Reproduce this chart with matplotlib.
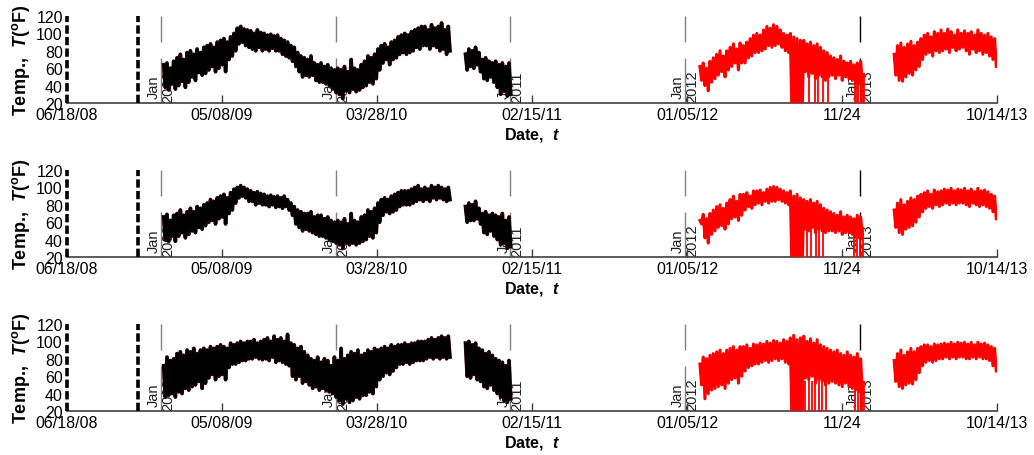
import matplotlib
matplotlib.use("Agg")
from matplotlib import pyplot as plt
import numpy as np
import pandas as pd

plt.rcParams['font.family'] = ['Liberation Sans', 'DejaVu Sans']
plt.rcParams['mathtext.fontset'] = 'custom'
plt.rcParams['mathtext.rm'] = 'Liberation Sans:bold'
plt.rcParams['mathtext.it'] = 'Liberation Sans:italic:bold'
plt.rcParams['mathtext.bf'] = 'Liberation Sans:bold'

# ===================== 数据 (weekly upper / lower swing, degF) =====================
b1_start = "2009-01-06"   # black, first run
b2_start = "2010-09-29"   # black, second run
r1_start = "2012-02-01"   # red, first run
r2_start = "2013-03-13"   # red, second run

# --- top panel ---
top_b1_hi = [64, 66, 60, 68, 72, 76, 70, 78, 80, 76, 82, 78, 84, 86, 88, 84, 90, 92, 94, 90, 96,
             100, 106, 108, 105, 104, 103, 100, 104, 101, 100, 98, 99, 97, 98, 94, 92, 90, 86,
             84, 78, 74, 72, 70, 74, 66, 64, 66, 62, 64, 60, 58, 60, 58, 62, 56, 70, 60, 58, 64,
             68, 74, 72, 76, 82, 86, 88, 84, 90, 92, 96, 98, 100, 98, 102, 104, 106, 108,
             108, 104, 110, 106, 108, 112, 104, 108]
top_b1_lo = [38, 35, 42, 36, 40, 45, 38, 44, 50, 46, 55, 52, 54, 58, 62, 56, 60, 64, 56, 70, 74,
             80, 88, 90, 86, 84, 82, 80, 84, 80, 82, 80, 83, 80, 80, 76, 74, 72, 68,
             62, 56, 50, 52, 50, 52, 46, 44, 44, 42, 40, 36, 32, 30, 25, 34, 32, 36, 33, 35, 38,
             40, 44, 42, 48, 58, 66, 70, 64, 70, 72, 76, 78, 76, 78, 80, 84, 82, 86,
             86, 82, 86, 84, 80, 82, 76, 80]
top_b2_hi = [76, 82, 80, 84, 78, 70, 72, 68, 66, 68, 64, 66, 62, 66]
top_b2_lo = [58, 62, 60, 64, 56, 48, 46, 50, 44, 38, 30, 34, 28, 30]
top_r1_hi = [62, 66, 60, 68, 72, 76, 80, 74, 80, 84, 88, 82, 89, 86, 90, 94, 98,
             100, 98, 104, 108, 106, 110, 108, 104, 100, 98, 100, 96, 94, 92,
             92, 88, 90, 86, 88, 84, 80, 78, 74, 72, 70, 74, 68, 66, 68, 64, 66, 68]
top_r1_lo = [46, 40, 34, 44, 48, 52, 56, 50, 58, 62, 66, 58, 66, 66, 72, 74, 78,
             78, 80, 82, 86, 84, 86, 88, 84, 80, 78, 0, 0, 0, 0,
             56, 50, 54, 48, 52, 50, 46, 50, 52, 48, 52, 46, 50, 48, 46, 44, 42, 44]
top_r2_hi = [76, 86, 89, 84, 88, 91, 86, 90, 94, 98, 100, 96, 102, 100, 104, 100, 105, 102, 98, 104,
             100, 103, 100, 102, 98, 104, 100, 98, 100, 96, 94]
top_r2_lo = [52, 46, 45, 50, 54, 52, 58, 62, 70, 76, 78, 74, 80, 78, 80, 82, 78, 84, 80, 82,
             84, 80, 76, 82, 78, 80, 76, 78, 74, 70, 62]
top_drops = ["2012-09-17", "2012-09-28", "2012-10-04", "2012-10-15", "2012-10-26",
             "2012-12-21", "2012-12-25", "2012-12-28", "2013-01-03", "2013-01-06", "2013-01-08"]

# --- middle panel ---
mid_b1_hi = [66, 69, 62, 68, 70, 74, 68, 72, 76, 72, 78, 76, 80, 82, 86, 84, 88, 90, 92, 88, 94,
             98, 100, 102, 100, 98, 96, 94, 95, 93, 92, 90, 91, 89, 90, 88, 90, 86, 82,
             78, 74, 72, 70, 70, 72, 66, 68, 68, 64, 66, 62, 60, 62, 60, 64, 58, 70, 62, 60, 66,
             68, 74, 72, 76, 82, 86, 88, 86, 90, 92, 94, 96, 96, 96, 98, 100, 102, 98,
             100, 98, 102, 100, 102, 100, 98, 100]
mid_b1_lo = [40, 38, 44, 38, 44, 48, 42, 46, 50, 48, 54, 52, 56, 60, 62, 58, 64, 66, 58, 70, 74,
             82, 88, 90, 88, 84, 84, 80, 82, 80, 80, 78, 80, 77, 78, 76, 78, 74, 68,
             58, 54, 50, 52, 50, 48, 46, 44, 44, 42, 40, 38, 36, 34, 30, 36, 34, 36, 34, 36, 38,
             40, 44, 42, 48, 60, 68, 72, 70, 72, 74, 78, 80, 80, 80, 82, 84, 86, 84,
             86, 84, 88, 86, 88, 86, 84, 86]
mid_b2_hi = [78, 82, 80, 84, 76, 70, 72, 68, 70, 68, 66, 70, 62, 66]
mid_b2_lo = [60, 62, 62, 64, 58, 48, 46, 50, 44, 40, 34, 36, 30, 32]
mid_r1_hi = [62, 69, 64, 70, 74, 78, 80, 76, 82, 86, 90, 84, 92, 92, 94, 90, 96,
             96, 97, 94, 98, 100, 101, 100, 98, 96, 94, 96, 90, 92, 88,
             86, 84, 86, 82, 84, 80, 76, 74, 72, 70, 68, 72, 66, 68, 66, 64, 68, 66]
mid_r1_lo = [58, 42, 36, 46, 50, 54, 56, 52, 58, 64, 66, 62, 68, 74, 78, 76, 80,
             82, 80, 84, 82, 84, 84, 86, 84, 82, 80, 0, 0, 0, 0,
             52, 50, 54, 48, 52, 50, 48, 50, 50, 48, 50, 46, 48, 48, 46, 44, 42, 44]
mid_r2_hi = [74, 82, 86, 80, 84, 88, 86, 90, 92, 94, 96, 92, 97, 95, 96, 98, 97, 99, 96, 98,
             97, 99, 96, 98, 95, 99, 96, 97, 95, 92, 90]
mid_r2_lo = [54, 48, 46, 52, 54, 56, 60, 66, 72, 76, 78, 76, 80, 78, 80, 82, 80, 82, 80, 82,
             82, 80, 78, 82, 80, 78, 80, 78, 76, 72, 64]
mid_drops = ["2012-09-11", "2012-09-21", "2012-09-30", "2012-10-07", "2012-10-15",
             "2012-12-20", "2012-12-26", "2013-01-01", "2013-01-06"]

# --- bottom panel ---
bot_b1_hi = [72, 82, 78, 80, 86, 88, 84, 90, 88, 92, 86, 90, 92, 90, 94, 92, 94, 96, 94, 92, 98,
             96, 98, 100, 98, 100, 100, 102, 98, 100, 102, 104, 100, 106, 102, 104, 100, 108, 98,
             96, 92, 94, 88, 84, 80, 78, 82, 76, 80, 78, 72, 82, 78, 92, 80, 84, 88, 86, 90, 84,
             86, 90, 88, 92, 90, 92, 94, 92, 96, 94, 96, 96, 98, 96, 98, 98, 100, 100,
             100, 102, 104, 102, 104, 106, 104, 106]
bot_b1_lo = [36, 38, 40, 36, 42, 40, 46, 44, 48, 50, 54, 46, 52, 58, 62, 56, 60, 62, 56, 70, 74,
             74, 76, 78, 78, 80, 80, 82, 80, 79, 80, 78, 82, 76, 78, 76, 74, 72, 60,
             56, 60, 52, 54, 50, 46, 48, 44, 46, 44, 42, 40, 36, 32, 28, 34, 30, 32, 36, 34, 38,
             38, 42, 40, 48, 56, 60, 64, 62, 66, 70, 74, 74, 76, 74, 76, 78, 78, 78,
             80, 82, 80, 82, 80, 82, 80, 82]
bot_b2_hi = [98, 100, 96, 98, 92, 90, 86, 88, 84, 80, 78, 76, 72, 78]
bot_b2_lo = [60, 58, 62, 56, 54, 48, 46, 50, 44, 40, 36, 32, 30, 34]
bot_r1_hi = [74, 82, 80, 84, 86, 88, 90, 86, 90, 92, 94, 90, 94, 94, 96, 92, 97,
             96, 98, 97, 100, 98, 101, 100, 98, 102, 100, 104, 107, 102, 104,
             106, 100, 103, 98, 102, 96, 94, 92, 90, 88, 90, 86, 84, 88, 84, 82, 86, 80]
bot_r1_lo = [50, 34, 40, 44, 46, 48, 50, 46, 52, 56, 58, 52, 60, 66, 70, 72, 74,
             74, 76, 78, 76, 78, 80, 78, 80, 76, 74, 0, 0, 0, 0,
             58, 56, 60, 52, 56, 54, 50, 52, 54, 52, 50, 48, 52, 48, 46, 44, 42, 40]
bot_r2_hi = [78, 86, 90, 84, 88, 92, 88, 92, 94, 96, 96, 94, 97, 96, 97, 98, 97, 99, 97, 99,
             98, 99, 97, 99, 96, 99, 97, 98, 96, 94, 92]
bot_r2_lo = [54, 48, 46, 50, 52, 51, 56, 64, 72, 76, 78, 76, 78, 80, 80, 82, 80, 82, 80, 82,
             82, 80, 80, 82, 80, 82, 80, 80, 78, 72, 66]
bot_drops = ["2012-09-08", "2012-09-15", "2012-09-22", "2012-09-29", "2012-10-06", "2012-10-13",
             "2012-10-22", "2012-12-22", "2012-12-27", "2013-01-02", "2013-01-05", "2013-01-08"]

# markers / axis
start_date = "2008-06-18"
marker_date = "2008-11-14"
years = [2009, 2010, 2011, 2012, 2013]
tick_labels = ["06/18/08", "05/08/09", "03/28/10", "02/15/11", "01/05/12", "11/24", "10/14/13"]
y_ticks = [20, 40, 60, 80, 100, 120]

panels = [
    (top_b1_hi, top_b1_lo, top_b2_hi, top_b2_lo, top_r1_hi, top_r1_lo, top_r2_hi, top_r2_lo, top_drops),
    (mid_b1_hi, mid_b1_lo, mid_b2_hi, mid_b2_lo, mid_r1_hi, mid_r1_lo, mid_r2_hi, mid_r2_lo, mid_drops),
    (bot_b1_hi, bot_b1_lo, bot_b2_hi, bot_b2_lo, bot_r1_hi, bot_r1_lo, bot_r2_hi, bot_r2_lo, bot_drops),
]


def swing(ax, start, hi, lo, color, under=None):
    # each week: the high reading, then half a week later the low reading
    t = pd.date_range(start, periods=len(hi), freq="7D")
    tt = np.empty(2 * len(hi), dtype="datetime64[ns]")
    tt[0::2] = t.values
    tt[1::2] = (t + pd.Timedelta(hours=84)).values
    vv = np.empty(2 * len(hi))
    vv[0::2] = hi
    vv[1::2] = lo
    if under is not None:
        ax.plot(tt, vv, color=under, lw=2.7, zorder=2.9)
    ax.plot(tt, vv, color=color, lw=2.2, zorder=3)


# ===================== 画图 =====================
fig = plt.figure(figsize=(10.34, 4.56), dpi=100)
W, H = 1034, 456
tick_dates = pd.date_range(start_date, periods=7, freq="324D")
x0, x1 = tick_dates[0], tick_dates[-1]
dash = (0, (2.3, 0.9))

for i, (b1h, b1l, b2h, b2l, r1h, r1l, r2h, r2l, drops) in enumerate(panels):
    top_px = [17, 171, 325][i]
    ax = fig.add_axes([67 / W, 1 - (top_px + 87) / H, 930 / W, 87 / H])

    swing(ax, b1_start, b1h, b1l, "black", under="#6b1515")
    swing(ax, b2_start, b2h, b2l, "black", under="#6b1515")
    swing(ax, r1_start, r1h, r1l, "red")
    swing(ax, r2_start, r2h, r2l, "red")
    ax.vlines(pd.to_datetime(drops), 0, 55, colors="red", lw=1.3, zorder=3)

    # Jan 1 markers
    for y in years:
        d = pd.Timestamp(f"{y}-01-01")
        c = "black" if y == 2013 else "#808080"
        ax.vlines(d, 90, 120, colors=c, lw=1, zorder=1)
        ax.vlines(d, 20, 72, colors=c, lw=1, zorder=1)
        ax.text(d, 20.6, f"Jan\n{y}", rotation=90, ha="center", va="bottom",
                fontsize=10.5, linespacing=1.0, color="#202020", zorder=1)

    ax.vlines(pd.Timestamp(marker_date), 20, 120, colors="black", lw=2.6, linestyles=dash, zorder=4)
    ax.vlines(x0, 20, 120, colors="black", lw=2.6, linestyles=dash, zorder=4, clip_on=False)

    ax.set_xlim(x0, x1)
    ax.set_ylim(20, 120)
    ax.set_yticks(y_ticks)
    ax.set_xticks(tick_dates)
    ax.set_xticklabels(tick_labels)

    for s in ["top", "right", "left"]:
        ax.spines[s].set_visible(False)
    ax.spines["bottom"].set_color("#404040")
    ax.spines["bottom"].set_linewidth(1.2)

    ax.tick_params(axis="x", direction="in", length=6, width=1, color="#404040",
                   labelsize=11.5, pad=3)
    ax.tick_params(axis="y", length=0, labelsize=11.5, pad=3)

    ax.set_ylabel(r"Temp.,  $T$($^{\mathrm{o}}$F)", fontsize=13, fontweight="bold", labelpad=3)
    ax.set_xlabel(r"Date,  $t$", fontsize=11.5, fontweight="bold", labelpad=2)

plt.savefig("out.png", dpi=100)
plt.close()
